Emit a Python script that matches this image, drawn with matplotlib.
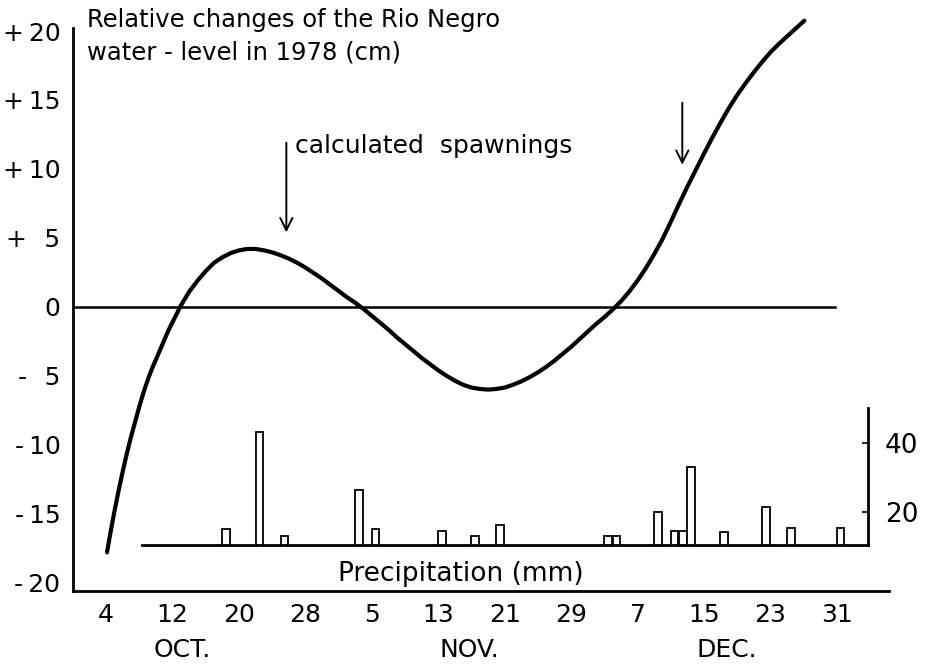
import matplotlib.pyplot as plt
import numpy as np

# days counted from 1 Oct 1978
tick_days = [4, 12, 20, 28, 36, 44, 52, 60, 68, 76, 84, 92]
tick_labels = ['4', '12', '20', '28', '5', '13', '21', '29', '7', '15', '23', '31']
month_days = [13.2, 47.7, 78.8]
month_labels = ['OCT.', 'NOV.', 'DEC.']

# water level curve (cm)
level_days = [4.1, 4.5, 5.0, 5.5, 6.0, 6.5, 7.0, 7.5, 8.0, 8.5, 9.0, 9.5, 10.0, 10.5,
              11.0, 11.5, 12.0, 12.5, 13.0, 14.0, 15.0, 16.0, 17.0, 18.0, 19.0, 20.0,
              21.0, 22.0, 23.0, 24.0, 25.0, 26.0, 27.0, 28.0, 29.0, 30.0, 31.0, 32.0,
              33.0, 34.0, 35.0, 36.0, 37.0, 38.0, 39.0, 40.0, 41.0, 42.0, 43.0, 44.0,
              45.0, 46.0, 47.0, 48.0, 49.0, 50.0, 51.0, 52.0, 53.0, 54.0, 55.0, 56.0,
              57.0, 58.0, 59.0, 60.0, 61.0, 62.0, 63.0, 64.0, 65.0, 66.0, 67.0, 68.0,
              69.0, 70.0, 71.0, 72.0, 73.0, 74.0, 75.0, 76.0, 77.0, 78.0, 79.0, 80.0,
              81.0, 82.0, 83.0, 84.0, 85.0, 86.0, 87.0, 88.1]
level_cm = [-17.8, -16.4, -14.8, -13.3, -11.9, -10.6, -9.4, -8.3, -7.2, -6.2, -5.3, -4.5,
            -3.8, -3.1, -2.4, -1.7, -1.1, -0.5, 0.1, 1.1, 1.9, 2.6, 3.2, 3.6, 3.9, 4.1,
            4.2, 4.2, 4.1, 3.95, 3.75, 3.5, 3.2, 2.85, 2.45, 2.05, 1.6, 1.15,
            0.7, 0.3, -0.15, -0.65, -1.15, -1.65, -2.2, -2.7, -3.2, -3.7, -4.15, -4.6,
            -5.0, -5.35, -5.65, -5.85, -5.95, -6.0, -5.95, -5.85, -5.65, -5.4, -5.1, -4.75,
            -4.35, -3.9, -3.4, -2.9, -2.35, -1.8, -1.25, -0.75, -0.2, 0.4, 1.1, 1.9,
            2.8, 3.8, 4.9, 6.15, 7.45, 8.7, 9.9, 11.1, 12.25, 13.35, 14.4, 15.35,
            16.2, 17.0, 17.75, 18.45, 19.05, 19.6, 20.15, 20.75]

# daily precipitation (mm)
rain_days = [18, 22, 25, 34, 36, 44, 48, 51, 64, 65, 70, 72, 73, 74, 78, 83, 86, 92]
rain_mm = [15.1, 43.2, 13.0, 26.4, 15.1, 14.5, 13.1, 16.2, 13.0, 13.0, 20.0, 14.5, 14.5,
           33.0, 14.2, 21.4, 15.4, 15.4]

spawn_days = [25.7, 73.4]

plt.rcParams['font.family'] = 'DejaVu Sans'

fig = plt.figure(figsize=(9.28, 6.71), dpi=100)
ax = fig.add_axes([73 / 928, 80 / 671, 816 / 928, 591 / 671])
ax.set_xlim(0, 98.3)
ax.set_ylim(-20.6, 22.25)

ax.plot(level_days, level_cm, color='black', lw=3.0, solid_capstyle='round',
        solid_joinstyle='round')
ax.plot([0, 91.8], [0, 0], color='black', lw=1.8)

for sp in ['top', 'right']:
    ax.spines[sp].set_visible(False)
ax.spines['left'].set_linewidth(2)
ax.spines['bottom'].set_linewidth(2)
ax.spines['left'].set_bounds(-20.6, 20.2)

ax.set_yticks([20, 15, 10, 5, 0, -5, -10, -15, -20])
ax.set_yticklabels(['+\u200920', '+\u200915', '+\u200910', '+\u2002\u20095', '0',
                    '-\u2002\u20095', '-\u200910', '-\u200915', '-\u200920'])
ax.set_xticks(tick_days)
ax.set_xticklabels(tick_labels)
ax.tick_params(axis='y', length=0, pad=9, labelsize=18)
ax.tick_params(axis='x', length=0, pad=9, labelsize=18)

for d, lab in zip(month_days, month_labels):
    ax.text(d, -0.10, lab, transform=ax.get_xaxis_transform(), ha='center', va='center',
            fontsize=18)

# spawning arrows
ax.annotate('', xy=(spawn_days[0], 5.2), xytext=(spawn_days[0], 12.1),
            arrowprops=dict(arrowstyle='->', lw=1.4, color='black', mutation_scale=22))
ax.annotate('', xy=(spawn_days[1], 10.1), xytext=(spawn_days[1], 15.0),
            arrowprops=dict(arrowstyle='->', lw=1.4, color='black', mutation_scale=22))
ax.text(26.8, 11.7, 'calculated  spawnings', ha='left', va='center', fontsize=18)

fig.text(87 / 928, 1 - 8 / 671, 'Relative changes of the Rio Negro\nwater - level in 1978 (cm)',
         ha='left', va='top', fontsize=17.5, linespacing=1.45)

# precipitation inset
pax = ax.inset_axes([8.34, -17.25, 95.8 - 8.34, 9.93], transform=ax.transData)
pax.set_xlim(8.34, 95.8)
pax.set_ylim(10.43, 50.1)
pax.bar(rain_days, rain_mm, width=0.92, align='edge', color='white', edgecolor='black', lw=1.3)
pax.patch.set_alpha(0)
for sp in ['top', 'left']:
    pax.spines[sp].set_visible(False)
pax.spines['bottom'].set_linewidth(2)
pax.spines['right'].set_linewidth(2)
pax.set_xticks([])
pax.yaxis.tick_right()
pax.set_yticks([20, 40])
pax.tick_params(axis='y', direction='in', length=4, width=1.2, pad=12, labelsize=19)

ax.text(46.7, -19.4, 'Precipitation (mm)', ha='center', va='center', fontsize=19)

plt.savefig('out.png', dpi=100)
